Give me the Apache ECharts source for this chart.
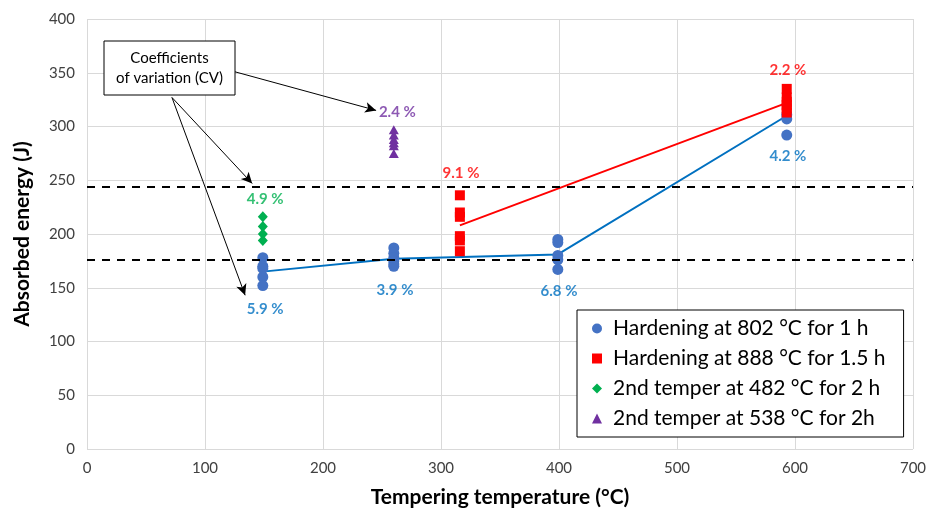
<!DOCTYPE html>
<html>
<head>
<meta charset="utf-8">
<script src="https://cdn.jsdelivr.net/npm/echarts@6/dist/echarts.min.js"></script>
<style>
  html, body { margin: 0; padding: 0; background: #fff; }
  #chart { width: 933px; height: 516px; }
</style>
</head>
<body>
<div id="chart"></div>
<script>
// measured absorbed energy (J) by tempering temperature (°C)
var hard802 = [[149, 178], [149, 170], [149, 168], [149, 160], [149, 152],
               [260, 187], [260, 182], [260, 178], [260, 175], [260, 172], [260, 170],
               [399, 195], [399, 192], [399, 180], [399, 176], [399, 167],
               [593, 311], [593, 307], [593, 292]];
var hard888 = [[316, 236], [316, 220], [316, 216], [316, 198], [316, 194], [316, 184],
               [593, 335], [593, 327], [593, 323], [593, 320], [593, 317], [593, 313]];
var temper482 = [[149, 216], [149, 207], [149, 200], [149, 194]];
var temper538 = [[260, 297], [260, 292], [260, 288], [260, 285], [260, 282], [260, 275]];

var mean802 = [[149, 165], [260, 177], [399, 181], [593, 310]];
var mean888 = [[316, 208], [593, 322]];

var refLines = [244, 176];

// CV labels: [x, y, text]
var cvBlue = [[151, 130, '5.9 %'], [261, 148, '3.9 %'], [400, 147, '6.8 %'], [594, 272, '4.2 %']];
var cvRed = [[317, 257, '9.1 %'], [594, 352, '2.2 %']];
var cvGreen = [[151, 232, '4.9 %']];
var cvPurple = [[263, 313, '2.4 %']];

var arrows = [[[125, 351], [245, 315]], [[72, 327], [140, 247]], [[72, 327], [134, 143]]];

var names = ['Hardening at 802 °C for 1 h', 'Hardening at 888 °C for 1.5 h',
             '2nd temper at 482 °C for 2 h', '2nd temper at 538 °C for 2h'];

var blue = '#4472C4', red = '#FF0000', green = '#00B050', purple = '#7030A0';
var font = 'Lato, "Open Sans", sans-serif';

var chart = echarts.init(document.getElementById('chart'));

function cvSeries(data, color) {
  return {
    type: 'scatter',
    data: data,
    symbolSize: 0,
    silent: true,
    label: {
      show: true,
      position: 'inside',
      formatter: function (p) { return p.data[2]; },
      color: color,
      fontWeight: 'bold',
      fontSize: 15,
      fontFamily: font
    },
    z: 5
  };
}

chart.setOption({
  animation: false,
  textStyle: { fontFamily: font },
  grid: { left: 87, right: 20, top: 19, bottom: 67 },
  xAxis: {
    type: 'value', min: 0, max: 700, interval: 100,
    name: 'Tempering temperature (°C)',
    nameLocation: 'middle', nameGap: 38,
    nameTextStyle: { fontSize: 21, fontWeight: 'bold', color: '#000' },
    axisLine: { show: false },
    axisTick: { show: false },
    axisLabel: { fontSize: 15, color: '#404040', margin: 12 },
    splitLine: { lineStyle: { color: '#D9D9D9' } }
  },
  yAxis: {
    type: 'value', min: 0, max: 400, interval: 50,
    name: 'Absorbed energy (J)',
    nameLocation: 'middle', nameGap: 54,
    nameTextStyle: { fontSize: 21, fontWeight: 'bold', color: '#000' },
    axisLine: { show: false },
    axisTick: { show: false },
    axisLabel: { fontSize: 15, color: '#404040', margin: 12 },
    splitLine: { lineStyle: { color: '#D9D9D9' } }
  },
  legend: {
    left: 577, top: 310,
    orient: 'vertical',
    data: names,
    backgroundColor: '#fff',
    borderColor: '#000',
    borderWidth: 1,
    padding: [8, 18, 8, 15],
    itemGap: 9,
    itemWidth: 10, itemHeight: 10,
    textStyle: { fontSize: 21, color: '#000', fontFamily: font, padding: [0, 0, 0, 6] }
  },
  graphic: [{
    type: 'rect',
    shape: { x: 104, y: 41, width: 131, height: 54 },
    style: { fill: '#fff', stroke: '#000', lineWidth: 1 },
    z: 100
  }, {
    type: 'text',
    x: 169.5, y: 68,
    style: {
      text: 'Coefficients\nof variation (CV)',
      fill: '#000', font: '15px ' + font,
      textAlign: 'center', textVerticalAlign: 'middle', lineHeight: 20
    },
    z: 101
  }],
  series: [{
    name: 'refs',
    type: 'line',
    data: [],
    markLine: {
      silent: true, symbol: 'none', label: { show: false },
      lineStyle: { color: '#000', type: [8, 7], width: 2 },
      data: refLines.map(function (v) { return { yAxis: v }; })
    },
    z: 3
  }, {
    name: 'arrows',
    type: 'line',
    data: [],
    markLine: {
      silent: true,
      symbol: ['none', 'arrow'], symbolSize: [8, 11],
      label: { show: false },
      lineStyle: { color: '#000', type: 'solid', width: 1 },
      itemStyle: { color: '#000' },
      data: arrows.map(function (a) { return [{ coord: a[0] }, { coord: a[1] }]; })
    },
    z: 4
  }, {
    name: 'mean802', type: 'line', data: mean802, showSymbol: false, silent: true,
    lineStyle: { color: '#0070C0', width: 2 }, z: 2
  }, {
    name: 'mean888', type: 'line', data: mean888, showSymbol: false, silent: true,
    lineStyle: { color: red, width: 2 }, z: 2
  }, {
    name: names[0], type: 'scatter', data: hard802, symbol: 'circle', symbolSize: 11,
    itemStyle: { color: blue, opacity: 1 }, z: 3
  }, {
    name: names[1], type: 'scatter', data: hard888, symbol: 'rect', symbolSize: 10,
    itemStyle: { color: red, opacity: 1 }, z: 3
  }, {
    name: names[2], type: 'scatter', data: temper482, symbol: 'diamond', symbolSize: [10, 11],
    itemStyle: { color: green, opacity: 1 }, z: 3
  }, {
    name: names[3], type: 'scatter', data: temper538, symbol: 'triangle', symbolSize: [10, 9],
    itemStyle: { color: purple, opacity: 1 }, z: 3
  },
  cvSeries(cvBlue, '#0070C0'),
  cvSeries(cvRed, red),
  cvSeries(cvGreen, green),
  cvSeries(cvPurple, purple)
  ]
});
</script>
</body>
</html>
